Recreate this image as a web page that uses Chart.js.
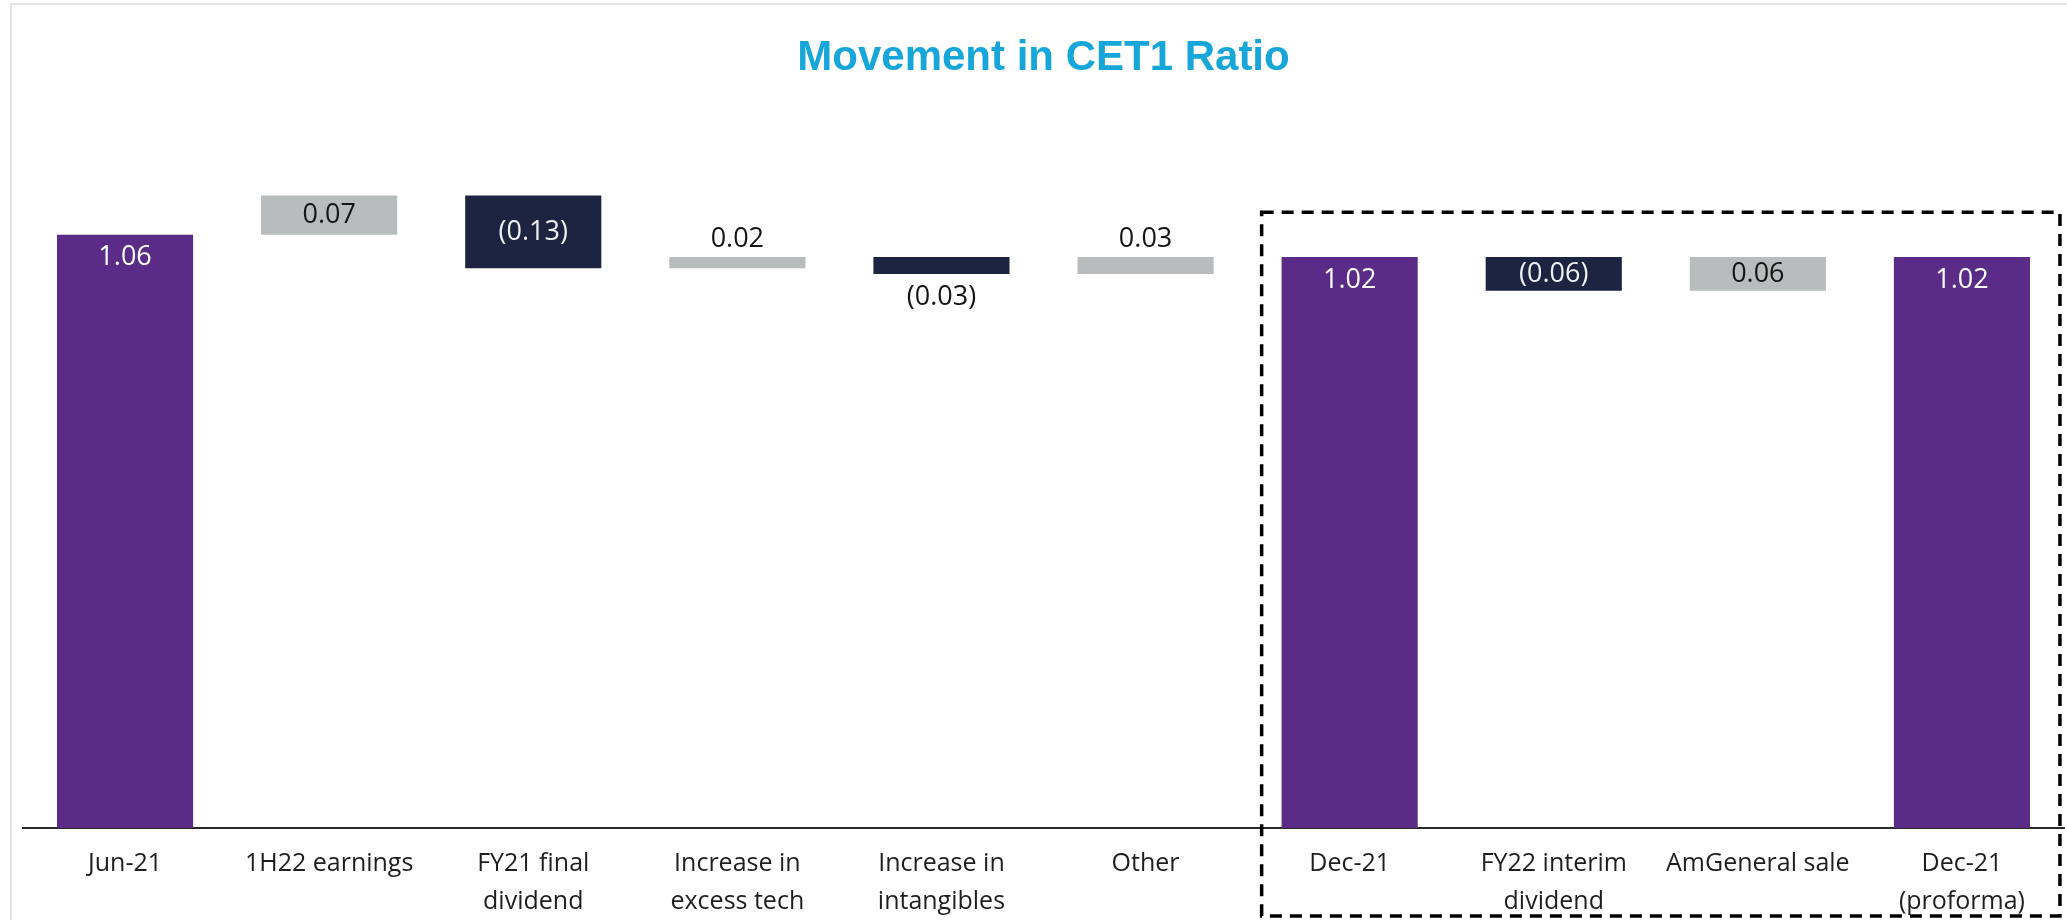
<!DOCTYPE html>
<html>
<head>
<meta charset="utf-8">
<title>Movement in CET1 Ratio</title>
<script src="https://cdn.jsdelivr.net/npm/chart.js@4"></script>
<style>
    html, body { margin: 0; padding: 0; background: #ffffff; }
    #wrap { width: 2067px; height: 920px; position: relative; }
</style>
</head>
<body>
<div id="wrap"><canvas id="graph"></canvas></div>
<script>
// Categories (multi-line tick labels)
const categories = [
    ["Jun-21"],
    ["1H22 earnings"],
    ["FY21 final", "dividend"],
    ["Increase in", "excess tech"],
    ["Increase in", "intangibles"],
    ["Other"],
    ["Dec-21"],
    ["FY22 interim", "dividend"],
    ["AmGeneral sale"],
    ["Dec-21", "(proforma)"]
];

// Totals are absolute values, the rest are movements
const movements = [1.06, 0.07, -0.13, 0.02, -0.03, 0.03, 1.02, -0.06, 0.06, 1.02];
const barKind = ["total", "up", "down", "up", "down", "up", "total", "down", "up", "total"];
const valueLabels = ["1.06", "0.07", "(0.13)", "0.02", "(0.03)", "0.03", "1.02", "(0.06)", "0.06", "1.02"];

const colors = { total: "#5B2C87", up: "#B9BCBC", down: "#1C2441" };

// Build floating ranges for the waterfall
let running = 0;
const ranges = movements.map((v, i) => {
    if (barKind[i] === "total") {
        running = v;
        return [0, v];
    }
    const start = running;
    running = +(running + v).toFixed(4);
    return [start, running];
});

const labelFont = "27px 'Open Sans', 'Noto Sans', sans-serif";

// Value labels: inside top for totals, centred for tall movements, outside for thin ones
const valueLabelPlugin = {
    id: "valueLabels",
    afterDatasetsDraw(chart) {
        const ctx = chart.ctx;
        const meta = chart.getDatasetMeta(0);
        ctx.save();
        ctx.font = labelFont;
        ctx.textAlign = "center";
        ctx.textBaseline = "middle";
        meta.data.forEach((bar, i) => {
            const top = Math.min(bar.y, bar.base);
            const bottom = Math.max(bar.y, bar.base);
            const kind = barKind[i];
            let y, color;
            if (kind === "total") {
                y = top + 23;
                color = "#ffffff";
            } else if (bottom - top >= 30) {
                y = (top + bottom) / 2;
                color = kind === "down" ? "#eef0f4" : "#151515";
            } else if (kind === "up") {
                y = top - 18;
                color = "#151515";
            } else {
                y = bottom + 23;
                color = "#151515";
            }
            ctx.fillStyle = color;
            ctx.fillText(valueLabels[i], bar.x, y);
        });
        ctx.restore();
    }
};

// Dashed box around the Dec-21 group, plus a faint page frame
const groupBoxPlugin = {
    id: "groupBox",
    beforeDraw(chart) {
        const ctx = chart.ctx;
        ctx.save();
        ctx.strokeStyle = "#e4e4e4";
        ctx.lineWidth = 2;
        ctx.beginPath();
        ctx.moveTo(11, chart.height);
        ctx.lineTo(11, 4);
        ctx.lineTo(chart.width, 4);
        ctx.stroke();
        ctx.restore();
    },
    afterDraw(chart) {
        const x = chart.scales.x;
        const y = chart.scales.y;
        const left = x.getPixelForValue(6) - 88;
        const right = x.getPixelForValue(9) + 98;
        const top = y.getPixelForValue(1.10);
        const bottom = chart.height - 4;
        const ctx = chart.ctx;
        ctx.save();
        ctx.strokeStyle = "#000000";
        ctx.lineWidth = 3.5;
        ctx.setLineDash([12, 8]);
        ctx.strokeRect(left, top, right - left, bottom - top);
        ctx.restore();
    }
};

const ctx = document.getElementById("graph").getContext("2d");
new Chart(ctx, {
    type: "bar",
    data: {
        labels: categories,
        datasets: [{
            data: ranges,
            backgroundColor: barKind.map((k) => colors[k]),
            borderWidth: 0,
            categoryPercentage: 1,
            barPercentage: 0.667
        }]
    },
    options: {
        responsive: true,
        maintainAspectRatio: false,
        animation: false,
        layout: { padding: { left: 23, right: 3, top: 0, bottom: 0 } },
        plugins: {
            legend: { display: false },
            tooltip: { enabled: false },
            title: {
                display: true,
                text: "Movement in CET1 Ratio",
                color: "#17A6D9",
                font: { family: "'Liberation Sans', Arial, sans-serif", size: 42, weight: "bold", lineHeight: 1.2 },
                padding: { top: 33, bottom: 17 }
            }
        },
        scales: {
            x: {
                grid: { display: false, drawTicks: false },
                border: { display: true, color: "#2a2a2a", width: 2 },
                ticks: {
                    color: "#1e1e1e",
                    padding: 17,
                    maxRotation: 0,
                    autoSkip: false,
                    font: { family: "'Open Sans', 'Noto Sans', sans-serif", size: 25, lineHeight: 1.52 }
                },
                afterFit: (scale) => { scale.height = 92; }
            },
            y: {
                display: false,
                min: 0,
                max: 1.3
            }
        }
    },
    plugins: [valueLabelPlugin, groupBoxPlugin]
});
</script>
</body>
</html>
